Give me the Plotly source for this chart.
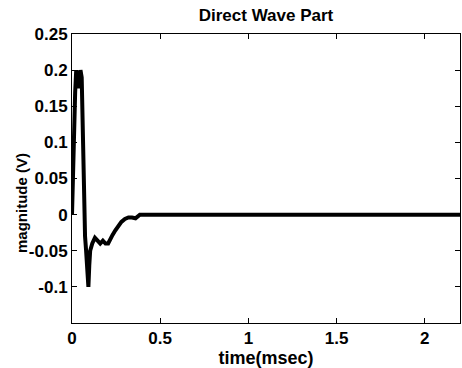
import plotly.graph_objects as go

time_ms = [0.0, 0.006, 0.012, 0.018, 0.024, 0.030, 0.036, 0.042, 0.048, 0.055,
           0.062, 0.068, 0.074, 0.080, 0.087, 0.093, 0.098, 0.103, 0.115, 0.130,
           0.145, 0.160, 0.175, 0.190, 0.205, 0.218, 0.230, 0.245, 0.260, 0.280,
           0.300, 0.320, 0.340, 0.360, 0.385, 0.42, 0.6, 1.0, 1.5, 2.0, 2.2]
magnitude = [0.0, 0.07, 0.13, 0.17, 0.20, 0.19, 0.175, 0.185, 0.20, 0.19,
             0.10, 0.0, -0.03, -0.05, -0.08, -0.10, -0.07, -0.05, -0.04, -0.032,
             -0.036, -0.04, -0.036, -0.04, -0.04, -0.035, -0.028, -0.022, -0.016, -0.01,
             -0.006, -0.004, -0.004, -0.005, 0.0, 0.0, 0.0, 0.0, 0.0, 0.0, 0.0]

x_ticks = [0, 0.5, 1, 1.5, 2]
x_tick_labels = ["0", "0.5", "1", "1.5", "2"]
y_ticks = [-0.1, -0.05, 0, 0.05, 0.1, 0.15, 0.2, 0.25]
y_tick_labels = ["-0.1", "-0.05", "0", "0.05", "0.1", "0.15", "0.2", "0.25"]

font = dict(family="Liberation Sans, Arial, sans-serif", color="black")

fig = go.Figure()
fig.add_trace(go.Scatter(x=time_ms, y=magnitude, mode="lines",
                         line=dict(color="black", width=4), showlegend=False))

fig.update_layout(
    width=462, height=368,
    margin=dict(l=72, r=2, t=34, b=45),
    paper_bgcolor="white", plot_bgcolor="white",
    title=dict(text="<b>Direct Wave Part</b>", xref="paper", x=0.5, xanchor="center",
               yref="container", y=1 - 15 / 368, yanchor="middle", font=dict(size=17, **font)),
)
fig.add_annotation(text="<b>magnitude (V)</b>", textangle=-90, xref="paper", yref="paper",
                   x=-(72 - 21) / 388, y=(323 - 203) / 289, xanchor="center", yanchor="middle",
                   showarrow=False, font=dict(size=15, **font))
fig.update_xaxes(
    range=[0, 2.2], tickvals=x_ticks, ticktext=["<b>%s</b>" % t for t in x_tick_labels],
    ticks="inside", ticklen=5, tickcolor="black", showgrid=False, zeroline=False,
    showline=True, linecolor="black", linewidth=1, mirror="ticks",
    tickfont=dict(size=17, **font),
    title=dict(text="<b>time(msec)</b>", font=dict(size=18, **font), standoff=0),
)
fig.update_yaxes(
    range=[-0.15, 0.25], tickvals=y_ticks, ticktext=["<b>%s</b>" % t for t in y_tick_labels],
    ticks="inside", ticklen=5, tickcolor="black", showgrid=False, zeroline=False,
    showline=True, linecolor="black", linewidth=1, mirror="ticks",
    tickfont=dict(size=17, **font),
)

fig.write_html("out.html")
